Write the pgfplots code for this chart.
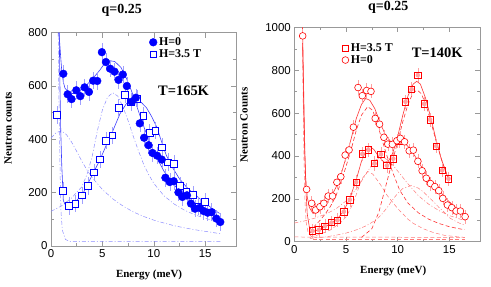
\documentclass[border=0pt]{standalone}
\usepackage{fontspec}
\setmainfont{Liberation Serif}
\setsansfont{Liberation Sans}
\usepackage{pgfplots}
\usepackage{pgfplotstable}
\pgfplotsset{compat=1.18}
\definecolor{pb}{RGB}{0,0,255}
\definecolor{lb}{RGB}{60,60,255}
\definecolor{cb}{RGB}{140,140,255}
\definecolor{eb}{RGB}{160,160,255}
\definecolor{pr}{RGB}{255,0,0}
\definecolor{lr}{RGB}{255,50,50}
\definecolor{cr}{RGB}{255,120,120}
\definecolor{er}{RGB}{255,160,160}
\pgfplotsset{
  base/.style={
    scale only axis, axis line style={gray!80}, every tick/.style={gray!80},
    tick align=inside, xmin=0, xmax=18, xtick={0,5,10,15},
    minor x tick num=1, minor y tick num=1,
    major tick length=5pt, minor tick length=3pt,
    ticklabel style={font=\fontsize{11.5}{12}\sffamily},
    /pgf/number format/assume math mode=true,
    /pgf/number format/1000 sep={},
    title style={font=\fontsize{14}{16}\bfseries, anchor=center},
    every axis x label/.style={font=\fontsize{11}{13}\rmfamily\bfseries, anchor=center},
    every axis y label/.style={font=\fontsize{11}{13}\rmfamily\bfseries, rotate=90, anchor=center},
    legend cell align=left,
    legend image code/.code={\draw[#1] plot coordinates {(0.1cm,0cm)};},
  },
  dd/.style={dash pattern=on 4pt off 2pt on 1pt off 2pt},
  ds/.style={dash pattern=on 4pt off 2.5pt},
  ebar/.style={only marks, mark=none, color=#1, line width=0.5pt, error bars/.cd, y dir=both, y fixed=33, error mark=none},
  bci/.style={only marks, mark=*, mark size=3.9pt, color=pb},
  bsq/.style={only marks, mark=square*, mark size=3.3pt, color=pb, fill=white, line width=0.5pt},
  rsq/.style={only marks, mark=square, mark size=3.2pt, color=pr, line width=0.65pt},
  rci/.style={only marks, mark=*, mark size=3.4pt, color=pr, fill=white, line width=0.6pt},
}
\pgfplotstableread{
E c
1.2 646
1.62 569
2.0 551
2.46 584
2.85 562
3.27 595
3.69 578
4.1 620
4.5 619
4.95 727
5.34 690
5.76 665
6.18 654
6.57 623
6.99 643
7.38 600
7.83 541
8.25 556
8.64 460
9.06 406
9.49 378
9.87 349
10.32 339
10.78 324
11.13 256
11.55 240
11.94 243
12.4 201
12.78 184
13.23 190
13.62 159
14.01 140
14.47 143
14.85 131
15.24 125
15.63 127
16.08 103
16.47 90
}\LzeroT
\pgfplotstableread{
E c
0.58 492
1.17 208
1.75 151
2.36 159
3.0 190
3.6 226
4.17 276
4.76 325
5.34 395
5.95 415
6.57 518
7.18 568
7.77 539
8.35 552
8.96 489
9.58 425
10.16 433
10.78 371
11.36 314
11.94 309
12.55 226
13.17 205
13.79 193
14.37 149
14.98 166
}\LfieldT
\pgfplotstableread{
E c
0.81 960
1.19 244
1.68 179
2.06 148
2.48 163
2.86 179
3.28 213
3.7 213
4.12 277
4.5 303
4.92 404
5.3 428
5.72 534
6.17 719
6.58 681
7.0 705
7.42 701
7.83 575
8.25 548
8.67 487
9.05 455
9.49 454
9.93 471
10.26 482
10.67 466
11.12 424
11.52 427
11.96 375
12.37 331
12.77 296
13.18 271
13.6 257
13.98 238
14.37 202
14.82 171
15.24 159
15.66 143
16.08 143
16.53 117
}\RzeroT
\pgfplotstableread{
E c
1.77 50
2.38 55
2.96 73
3.6 89
4.18 100
4.79 140
5.37 195
5.98 278
6.58 409
7.18 428
7.77 365
8.38 408
8.96 355
9.58 387
10.18 470
10.76 653
11.35 711
11.95 777
12.57 643
13.14 569
13.73 446
14.31 333
14.92 294
}\RfieldT
\begin{document}
\begin{tikzpicture}
\useasboundingbox (0,0) rectangle (491bp,287bp);
% ---------------- left panel ----------------
\begin{axis}[base, at={(51bp,41bp)}, anchor=south west,
  width=185bp, height=213.3bp, ymin=0, ymax=800, ytick={0,200,400,600,800},
  title={q=0.25}, title style={at={(axis description cs:0.382,1.075)}},
  xlabel={Energy (meV)}, xlabel style={at={(axis description cs:0.53,-0.1345)}},
  ylabel={Neutron counts}, ylabel style={at={(axis description cs:-0.232,0.553)}},
  legend style={at={(axis cs:9.55,790)}, anchor=north west, draw=none, fill=none,
    inner sep=0pt, row sep=-1.5pt, font=\fontsize{12}{13}\bfseries},
]
% components
\addplot[cb, dd, line width=0.5pt, forget plot] coordinates {(0.7,800)(0.75,600)(0.82,430)(0.9,250)(0.97,130)(1.1,60)(1.4,25)(1.8,17)(5,16)(10,16)(16.5,16)};
\addplot[cb, dd, line width=0.5pt, forget plot] coordinates {(0,405)(0.5,425)(1.0,432)(1.5,418)(2,390)(2.5,355)(3,318)(3.5,285)(4,257)(5,212)(6,177)(7,150)(8,128)(9,111)(10,97)(11,86)(12,76)(13,68)(14,61)(15,55)(16,49)(16.5,46)};
\addplot[cb, dd, line width=0.5pt, forget plot] coordinates {(0,130)(1,150)(2,180)(3,222)(3.5,268)(4,335)(4.5,430)(5,510)(5.5,558)(6,575)(6.5,562)(7,522)(7.5,470)(8,412)(8.5,358)(9,308)(9.5,268)(10,235)(11,188)(12,157)(13,134)(14,117)(15,104)(16,93)(16.5,89)};
% fits
\addplot[lb, line width=0.6pt, forget plot] coordinates {(0.75,800)(0.85,760)(0.95,705)(1.05,655)(1.2,615)(1.36,592)(1.8,572)(2.3,572)(3.1,590)(4,625)(4.76,660)(5.24,686)(5.7,695)(6.2,692)(6.8,670)(7.3,632)(7.8,585)(8.3,530)(8.8,472)(9.3,420)(9.8,372)(10.3,330)(11,280)(12,228)(13,188)(14,157)(15,130)(16,108)(16.5,97)};
\addplot[lb, line width=0.6pt, forget plot] coordinates {(0.8,800)(0.87,600)(0.95,430)(1.05,300)(1.2,170)(1.45,150)(1.7,148)(2.2,158)(3.1,196)(4,265)(4.76,323)(5.4,380)(6.05,435)(6.7,495)(7.35,535)(8.16,552)(8.8,538)(9.3,518)(9.8,485)(10.3,445)(10.75,392)(11.2,342)(11.7,302)(12.5,252)(13.3,216)(14.1,190)(15,160)(15.8,138)(16.4,122)};
% error bars, then data marks
\addplot[forget plot, ebar=eb] table[x=E, y=c] {\LzeroT};
\addplot[forget plot, ebar=eb] table[x=E, y=c] {\LfieldT};
\addplot[forget plot, bsq] table[x=E, y=c] {\LfieldT};
\addplot[forget plot, bci] table[x=E, y=c] {\LzeroT};
\addlegendimage{bci}
\addlegendentry{H=0}
\addlegendimage{bsq}
\addlegendentry{H=3.5 T}
\node[font=\fontsize{14.5}{16}\bfseries] at (axis cs:12.9,583) {T=165K};
\end{axis}
% ---------------- right panel ----------------
\begin{axis}[base, at={(294.3bp,45.3bp)}, anchor=south west,
  width=186bp, height=214.4bp, ymin=0, ymax=1000, ytick={0,200,400,600,800,1000},
  title={q=0.25}, title style={at={(axis description cs:0.505,1.065)}},
  xlabel={Energy (meV)}, xlabel style={at={(axis description cs:0.532,-0.135)}},
  ylabel={Neutron Counts}, ylabel style={at={(axis description cs:-0.27,0.544)}},
  legend style={at={(axis cs:4.6,935)}, anchor=north west, draw=none, fill=none,
    inner sep=0pt, row sep=-1.5pt, font=\fontsize{12}{13}\bfseries},
]
% baselines and elastic
\addplot[cr, ds, line width=0.5pt, forget plot] coordinates {(0,22)(16.5,20)};
\addplot[cr, ds, line width=0.5pt, forget plot] coordinates {(1.8,10)(16.5,10)};
\addplot[cr, ds, line width=0.5pt, forget plot] coordinates {(0.78,1000)(0.85,700)(0.93,400)(1.02,200)(1.15,90)(1.35,40)(1.7,22)(2.2,20)};
% components
\addplot[cr, dd, line width=0.5pt, forget plot] coordinates {(0,87)(1,97)(2,110)(3,128)(4,152)(5,190)(6,245)(7,320)(7.8,380)(8.6,396)(9.3,370)(10,330)(11,270)(12,215)(13,175)(14,145)(15,122)(16,106)(16.5,100)};
\addplot[cr, dd, line width=0.5pt, forget plot] coordinates {(1.5,15)(3,22)(4,30)(5,40)(6,55)(7,75)(8,105)(8.5,130)(9,160)(9.5,195)(10,225)(10.5,248)(11.3,262)(12,250)(12.5,232)(13,208)(13.5,185)(14,160)(14.5,138)(15,112)(15.5,98)(16,86)(16.5,78)};
\addplot[cr, ds, line width=0.5pt, forget plot] coordinates {(1.5,20)(2.5,35)(3.5,55)(4.5,90)(5,115)(5.5,160)(6,220)(6.5,290)(7.1,328)(7.6,315)(8.26,272)(9,215)(10,155)(11,105)(11.5,86)(12.5,60)(13.5,42)(14.5,30)(15.5,24)(16.5,20)};
\addplot[lr, ds, line width=0.6pt, forget plot] coordinates {(1.5,40)(2,75)(2.5,100)(3,130)(3.5,165)(4,210)(4.5,275)(5,350)(5.5,430)(6,520)(6.5,590)(7.1,630)(7.6,612)(8.26,513)(8.9,410)(9.55,320)(10.2,240)(11,180)(12,135)(13,105)(14,85)(15,70)(16,60)(16.5,56)};
\addplot[lr, ds, line width=0.6pt, forget plot] coordinates {(6.5,20)(7.5,60)(8.2,140)(8.8,250)(9.4,360)(9.97,459)(10.5,560)(11,640)(11.5,695)(11.9,707)(12.3,690)(12.8,630)(13.3,545)(13.8,455)(14.3,375)(14.8,310)(15.0,290)};
% fits
\addplot[lr, line width=0.6pt, forget plot] coordinates {(0.78,1000)(0.85,800)(0.92,600)(1.0,430)(1.1,300)(1.25,210)(1.45,160)(1.8,132)(2.2,135)(2.6,150)(3,172)(3.5,205)(4,250)(4.5,310)(5,392)(5.5,480)(6,575)(6.5,640)(6.9,668)(7.3,660)(7.8,620)(8.3,555)(8.8,500)(9.3,468)(9.8,462)(10.3,466)(10.8,455)(11.3,428)(11.8,390)(12.3,350)(12.8,312)(13.3,280)(14,240)(14.7,200)(15.4,168)(16,145)(16.5,128)};
\addplot[lr, line width=0.6pt, forget plot] coordinates {(0.8,1000)(0.87,800)(0.95,600)(1.03,400)(1.12,250)(1.25,130)(1.45,70)(1.75,48)(2.4,55)(3,70)(3.6,88)(4.2,108)(4.8,145)(5.4,205)(6,290)(6.5,375)(7.0,432)(7.3,445)(7.7,430)(8.2,395)(8.7,370)(9.1,375)(9.5,410)(10,490)(10.5,590)(11,680)(11.5,735)(11.85,748)(12.2,735)(12.7,670)(13.2,580)(13.7,480)(14.2,390)(14.7,320)(15.0,285)};
% error bars, then data marks
\addplot[forget plot, ebar=er] table[x=E, y=c] {\RzeroT};
\addplot[forget plot, ebar=er] table[x=E, y=c] {\RfieldT};
\addplot[forget plot, rsq] table[x=E, y=c] {\RfieldT};
\addplot[forget plot, rci] table[x=E, y=c] {\RzeroT};
\addlegendimage{rsq}
\addlegendentry{H=3.5 T}
\addlegendimage{rci}
\addlegendentry{H=0}
\node[font=\fontsize{14.5}{16}\bfseries] at (axis cs:13.83,883) {T=140K};
\end{axis}
\end{tikzpicture}
\end{document}
